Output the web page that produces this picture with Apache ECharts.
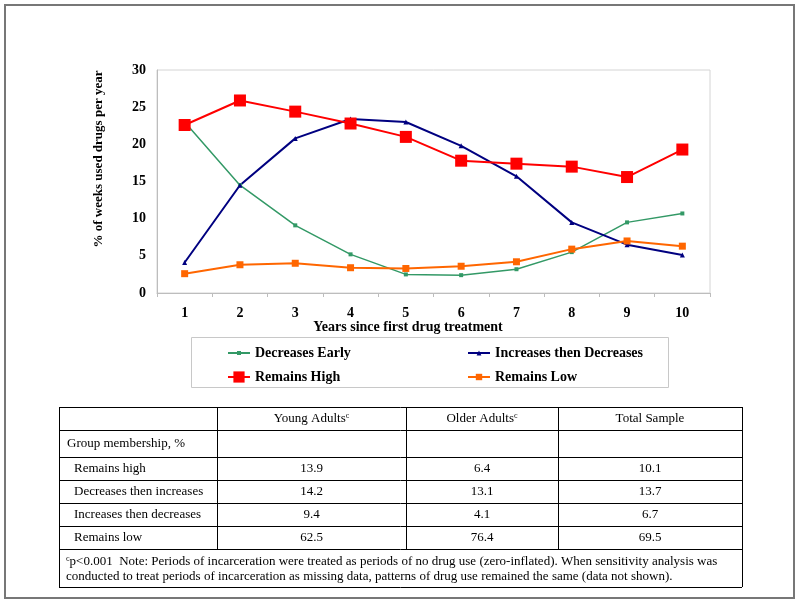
<!DOCTYPE html>
<html>
<head>
<meta charset="utf-8">
<script src="https://cdn.jsdelivr.net/npm/echarts@6/dist/echarts.min.js"></script>
<style>
  html, body { margin: 0; padding: 0; background: #fff; }
  #chart { width: 800px; height: 604px; }
</style>
</head>
<body>
<div id="chart"></div>
<script>
  // chart data
  var years = ['1', '2', '3', '4', '5', '6', '7', '8', '9', '10'];
  var decreasesEarly = [23.0, 14.5, 9.1, 5.2, 2.5, 2.4, 3.2, 5.5, 9.5, 10.7];
  var increasesThenDecreases = [4.1, 14.5, 20.8, 23.4, 23.0, 19.8, 15.7, 9.5, 6.5, 5.1];
  var remainsHigh = [22.6, 25.9, 24.4, 22.8, 21.0, 17.8, 17.4, 17.0, 15.6, 19.3];
  var remainsLow = [2.6, 3.8, 4.0, 3.4, 3.3, 3.6, 4.2, 5.9, 7.0, 6.3];

  // table data
  var tableHeader = ['Young Adults', 'Older Adults', 'Total Sample'];
  var headerSup = ['c', 'c', ''];
  var groupLabel = 'Group membership, %';
  var rowLabels = ['Remains high', 'Decreases then increases', 'Increases then decreases', 'Remains low'];
  var youngAdults = [13.9, 14.2, 9.4, 62.5];
  var olderAdults = [6.4, 13.1, 4.1, 76.4];
  var totalSample = [10.1, 13.7, 6.7, 69.5];
  var noteLines = [
    'p<0.001  Note: Periods of incarceration were treated as periods of no drug use (zero-inflated). When sensitivity analysis was',
    'conducted to treat periods of incarceration as missing data, patterns of drug use remained the same (data not shown).'
  ];

  var serif = '"Times New Roman", "Liberation Serif", serif';

  var myChart = echarts.init(document.getElementById('chart'));

  // table drawn with graphic elements
  var colX = [59, 217, 406, 558, 742];
  var rowY = [407, 430, 457, 480, 503, 526, 549, 587];
  var tableEls = [];
  function hline(y, x1, x2) {
    tableEls.push({ type: 'line', shape: { x1: x1, y1: y, x2: x2, y2: y }, style: { stroke: '#000', lineWidth: 1 } });
  }
  function vline(x, y1, y2) {
    tableEls.push({ type: 'line', shape: { x1: x, y1: y1, x2: x, y2: y2 }, style: { stroke: '#000', lineWidth: 1 } });
  }
  function cellText(txt, x, y, align) {
    tableEls.push({
      type: 'text', x: x, y: y,
      style: {
        text: txt, fill: '#000', font: '13px ' + serif,
        align: align, verticalAlign: 'middle',
        rich: { sup: { fontSize: 8, fontFamily: serif, verticalAlign: 'top', lineHeight: 14 }, n: { fontSize: 13, fontFamily: serif, lineHeight: 14 } }
      }
    });
  }
  for (var r = 0; r < rowY.length; r++) hline(rowY[r] + 0.5, colX[0], colX[4]);
  vline(colX[0] + 0.5, rowY[0], rowY[7]);
  vline(colX[4] + 0.5, rowY[0], rowY[7]);
  for (var c = 1; c < 4; c++) vline(colX[c] + 0.5, rowY[0], rowY[6]);

  var cols = [youngAdults, olderAdults, totalSample];
  for (var c = 0; c < 3; c++) {
    var cx = (colX[c + 1] + colX[c + 2]) / 2;
    var hdr = headerSup[c] ? '{n|' + tableHeader[c] + '}{sup|' + headerSup[c] + '}' : tableHeader[c];
    cellText(hdr, cx, (rowY[0] + rowY[1]) / 2, 'center');
    for (var r = 0; r < rowLabels.length; r++) {
      cellText(cols[c][r].toFixed(1), cx, (rowY[r + 2] + rowY[r + 3]) / 2, 'center');
    }
  }
  cellText(groupLabel, 67, (rowY[1] + rowY[2]) / 2, 'left');
  for (var r = 0; r < rowLabels.length; r++) {
    cellText(rowLabels[r], 74, (rowY[r + 2] + rowY[r + 3]) / 2, 'left');
  }
  cellText('{sup|c}{n|' + noteLines[0] + '}', 66, 562, 'left');
  cellText(noteLines[1], 66, 577, 'left');

  function legendFor(name, left, top, h) {
    return {
      data: [name], left: left, top: top, padding: 0,
      itemWidth: 22, itemHeight: h, selectedMode: false,
      textStyle: { fontFamily: serif, fontWeight: 'bold', fontSize: 14, color: '#000' }
    };
  }

  var option = {
    animation: false,
    backgroundColor: '#fff',
    grid: { left: 157, right: 90, top: 70, bottom: 311, show: true, borderColor: '#d4d4d4', borderWidth: 1 },
    legend: [
      legendFor('Decreases Early', 227, 346, 5),
      legendFor('Increases then Decreases', 467, 346, 6),
      legendFor('Remains High', 227, 370, 14),
      legendFor('Remains Low', 467, 370, 8)
    ],
    xAxis: {
      type: 'category',
      data: years,
      boundaryGap: true,
      axisLine: { lineStyle: { color: '#bdbdbd' } },
      axisTick: { show: true, length: 4, lineStyle: { color: '#bdbdbd' } },
      axisLabel: { margin: 13, color: '#000', fontFamily: serif, fontWeight: 'bold', fontSize: 14 },
      splitLine: { show: false }
    },
    yAxis: {
      type: 'value',
      min: 0, max: 30, interval: 5,
      axisLine: { show: true, lineStyle: { color: '#bdbdbd' } },
      axisTick: { show: false },
      axisLabel: { margin: 11, color: '#000', fontFamily: serif, fontWeight: 'bold', fontSize: 14 },
      splitLine: { show: false }
    },
    graphic: [
      { type: 'rect', shape: { x: 5, y: 5, width: 789, height: 593 }, style: { fill: 'none', stroke: '#777', lineWidth: 2 }, silent: true },
      { type: 'text', x: 99, y: 159, rotation: Math.PI / 2, style: { text: '% of weeks used drugs per year', fill: '#000', font: 'bold 13px ' + serif, align: 'center', verticalAlign: 'middle' } },
      { type: 'text', x: 408, y: 327, style: { text: 'Years since first drug treatment', fill: '#000', font: 'bold 14px ' + serif, align: 'center', verticalAlign: 'middle' } },
      { type: 'rect', shape: { x: 191.5, y: 337.5, width: 477, height: 50 }, style: { fill: 'none', stroke: '#c8c8c8', lineWidth: 1 }, silent: true },
      { type: 'group', children: tableEls }
    ],
    series: [
      {
        name: 'Decreases Early', type: 'line', data: decreasesEarly,
        symbol: 'rect', symbolSize: 4,
        lineStyle: { color: '#339966', width: 1.5 },
        itemStyle: { color: '#339966' }
      },
      {
        name: 'Increases then Decreases', type: 'line', data: increasesThenDecreases,
        symbol: 'triangle', symbolSize: 5,
        lineStyle: { color: '#000080', width: 2 },
        itemStyle: { color: '#000080' }
      },
      {
        name: 'Remains Low', type: 'line', data: remainsLow,
        symbol: 'rect', symbolSize: 7,
        lineStyle: { color: '#ff6600', width: 2 },
        itemStyle: { color: '#ff6600' }
      },
      {
        name: 'Remains High', type: 'line', data: remainsHigh,
        symbol: 'rect', symbolSize: 12,
        lineStyle: { color: '#ff0000', width: 2 },
        itemStyle: { color: '#ff0000' }
      }
    ]
  };
  myChart.setOption(option);
</script>
</body>
</html>
